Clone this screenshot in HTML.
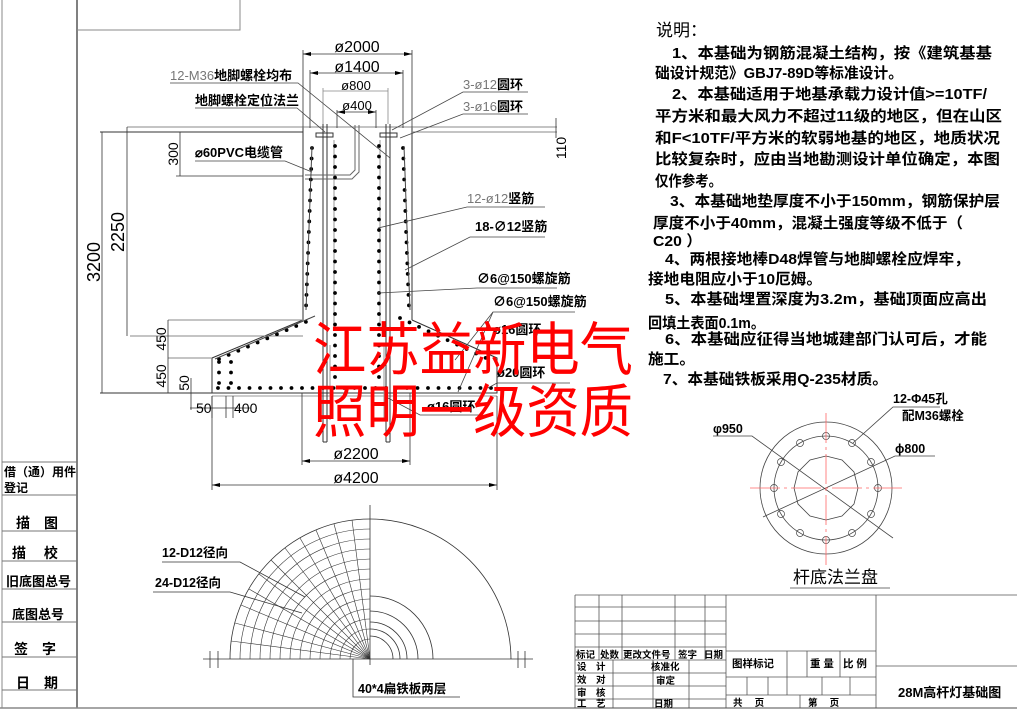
<!DOCTYPE html>
<html><head><meta charset="utf-8"><style>
html,body{margin:0;padding:0;background:#fff;}
svg{display:block;}
text{font-family:"Liberation Sans","Noto Sans CJK SC",sans-serif;fill:#000;}
.b{font-weight:bold;}
.g{fill:#777;}
</style></head><body>
<svg width="1017" height="715" viewBox="0 0 1017 715" xmlns="http://www.w3.org/2000/svg">
<g stroke="#000" stroke-width="1" fill="none">
<line x1="2" y1="0" x2="2" y2="708" stroke="#888"/>
<line x1="77" y1="0" x2="77" y2="708"/>
<line x1="0" y1="708" x2="1017" y2="708" stroke="#888" stroke-width="1.5"/>
<polyline points="77,30 240,30 240,0" stroke="#888"/>
<g stroke="#777">
<line x1="2" y1="462" x2="77" y2="462"/>
<line x1="2" y1="495" x2="77" y2="495"/>
<line x1="2" y1="531" x2="77" y2="531"/>
<line x1="2" y1="561" x2="77" y2="561"/>
<line x1="2" y1="589" x2="77" y2="589"/>
<line x1="2" y1="622" x2="77" y2="622"/>
<line x1="2" y1="657" x2="77" y2="657"/>
<line x1="2" y1="690" x2="77" y2="690"/>
</g>

<g stroke="#333">
<line x1="303" y1="128" x2="303" y2="320"/>
<line x1="412" y1="128" x2="412" y2="320"/>
<polyline points="303,320 212,358 212,393 497,393 497,358 412,320"/>
<line x1="212" y1="396" x2="497" y2="396" stroke="#999"/>
<line x1="127" y1="127" x2="557" y2="127" stroke="#888"/>
<line x1="100" y1="132" x2="303" y2="132"/>
<line x1="412" y1="132" x2="557" y2="132" stroke="#888"/>
<line x1="130" y1="336" x2="303" y2="336" stroke="#888"/>
<line x1="168" y1="320" x2="303" y2="320" stroke="#888"/>
<line x1="168" y1="358" x2="212" y2="358" stroke="#888"/>
<line x1="100" y1="393" x2="212" y2="393"/>
<line x1="323" y1="124" x2="323" y2="442"/><line x1="327" y1="124" x2="327" y2="442"/>
<line x1="386" y1="124" x2="386" y2="442"/><line x1="390" y1="124" x2="390" y2="442"/>
<line x1="323" y1="442" x2="327" y2="442"/><line x1="386" y1="442" x2="390" y2="442"/>
<rect x="316" y="133" width="17" height="4"/><rect x="380" y="133" width="17" height="4"/>
<polyline points="355,125 355,170 350,175 305,175" stroke="#666"/>
<polyline points="359,125 359,172 352,179 305,179" stroke="#666"/>
<line x1="334" y1="140" x2="334" y2="330" stroke="#999"/>
<line x1="380" y1="140" x2="380" y2="330" stroke="#999"/>
<line x1="330" y1="345" x2="330" y2="420" stroke="#999"/>
<line x1="384" y1="345" x2="384" y2="420" stroke="#999"/>
</g>
<g stroke="#000" stroke-width="3.8" stroke-linecap="round" stroke-dasharray="0 10.5">
<line x1="335" y1="146" x2="335" y2="384"/>
<line x1="379" y1="146" x2="379" y2="384"/>
<line x1="312" y1="148" x2="306" y2="308"/>
<line x1="403" y1="148" x2="409" y2="308"/>
<line x1="218" y1="388" x2="492" y2="388"/>
<line x1="219" y1="359" x2="315" y2="318"/>
<line x1="400" y1="318" x2="488" y2="359"/>
<line x1="219" y1="362" x2="219" y2="386"/>
<line x1="231" y1="362" x2="231" y2="386"/>
</g>
<g stroke="#444" stroke-width="1">
<line x1="312" y1="146" x2="306" y2="310"/>
<line x1="404" y1="146" x2="410" y2="310"/>
<line x1="215" y1="359" x2="315" y2="316"/>
</g>
<g stroke="#333" stroke-width="0.8">
<line x1="303" y1="54" x2="412" y2="54"/><line x1="303" y1="50" x2="303" y2="128"/><line x1="412" y1="50" x2="412" y2="128"/>
<line x1="310" y1="73" x2="403" y2="73"/><line x1="310" y1="70" x2="310" y2="128"/><line x1="403" y1="70" x2="403" y2="128"/>
<line x1="323" y1="91" x2="388" y2="91" stroke="#888"/><line x1="323" y1="88" x2="323" y2="124" stroke="#888"/><line x1="388" y1="88" x2="388" y2="124" stroke="#888"/>
<line x1="337" y1="112" x2="376" y2="112"/><line x1="337" y1="110" x2="337" y2="128"/><line x1="376" y1="110" x2="376" y2="128"/>
<line x1="102" y1="132" x2="102" y2="393"/>
<line x1="127" y1="127" x2="127" y2="336"/>
<line x1="180" y1="132" x2="180" y2="176"/><line x1="176" y1="176" x2="303" y2="176"/>
<line x1="168" y1="320" x2="168" y2="393"/>
<line x1="191" y1="378" x2="191" y2="410"/><line x1="188" y1="393" x2="212" y2="393"/>
<line x1="556" y1="118" x2="556" y2="138"/>
<line x1="190" y1="408" x2="250" y2="408"/><line x1="212" y1="396" x2="212" y2="418"/><line x1="226" y1="396" x2="226" y2="418"/><line x1="233" y1="396" x2="233" y2="418"/>
<line x1="302" y1="393" x2="302" y2="465"/><line x1="410" y1="393" x2="410" y2="465"/><line x1="302" y1="461" x2="410" y2="461"/>
<line x1="212" y1="396" x2="212" y2="490"/><line x1="497" y1="396" x2="497" y2="490"/><line x1="212" y1="485" x2="497" y2="485"/>
</g>
<g fill="#000" stroke="none">
<polygon points="303,54 311,52 311,56"/><polygon points="412,54 404,52 404,56"/>
<polygon points="310,73 318,71 318,75"/><polygon points="403,73 395,71 395,75"/>
<polygon points="337,112 345,110 345,114"/><polygon points="376,112 368,110 368,114"/>
<polygon points="302,461 310,459 310,463"/><polygon points="410,461 402,459 402,463"/>
<polygon points="212,485 220,483 220,487"/><polygon points="497,485 489,483 489,487"/>
</g>
<g stroke="#444" stroke-width="0.8">
<polyline points="170,83 298,83 390,158"/>
<polyline points="195,108 297,108 325,132"/>
<polyline points="195,161 285,161 312,172"/>
<polyline points="528,92 463,92 392,130"/>
<polyline points="528,114 463,114 400,138"/>
<polyline points="545,207 467,207 378,228"/>
<polyline points="545,237 470,237 405,270"/>
<polyline points="557,288 477,288 378,293"/>
<polyline points="575,312 493,312 455,360"/>
<polyline points="493,312 458,392"/>
<polyline points="570,383 497,383 488,388"/>
<polyline points="480,415 420,415 388,398"/>
</g>

<g stroke="#333" stroke-width="0.8">
<line x1="203" y1="659" x2="533" y2="659"/>
<line x1="370" y1="505" x2="370" y2="665"/>
<line x1="210" y1="651" x2="210" y2="668"/><line x1="218" y1="651" x2="218" y2="668"/>
<line x1="518" y1="651" x2="518" y2="668"/><line x1="525" y1="651" x2="525" y2="668"/>
<path d="M230,659 A140,140 0 0 1 370,519 A141,141 0 0 1 511,659"/>
<path d="M433,659 A63,63 0 0 0 370,596"/>
<path d="M418,659 A48,48 0 0 0 370,611"/>
<path d="M407,659 A37,37 0 0 0 370,622"/>
<path d="M400,659 A30,30 0 0 0 370,629"/>
<path d="M393,659 A23,23 0 0 0 370,636"/>
<g stroke-width="0.6">
<path d="M250,659 A120,120 0 0 1 370,539"/>
<path d="M240,659 A130,130 0 0 1 370,529"/>
<path d="M260,659 A110,110 0 0 1 370,549"/>
<path d="M270,659 A100,100 0 0 1 370,559"/>
<path d="M280,659 A90,90 0 0 1 370,569"/>
<path d="M290,659 A80,80 0 0 1 370,579"/>
<path d="M300,659 A70,70 0 0 1 370,589"/>
<path d="M310,659 A60,60 0 0 1 370,599"/>
<path d="M320,659 A50,50 0 0 1 370,609"/>
<path d="M330,659 A40,40 0 0 1 370,619"/>
<path d="M340,659 A30,30 0 0 1 370,629"/>
<path d="M350,659 A20,20 0 0 1 370,639"/>
<line x1="370" y1="659" x2="231" y2="641"/>
<line x1="370" y1="659" x2="235" y2="623"/>
<line x1="370" y1="659" x2="241" y2="605"/>
<line x1="370" y1="659" x2="249" y2="589"/>
<line x1="370" y1="659" x2="259" y2="574"/>
<line x1="370" y1="659" x2="271" y2="560"/>
<line x1="370" y1="659" x2="285" y2="548"/>
<line x1="370" y1="659" x2="300" y2="538"/>
<line x1="370" y1="659" x2="316" y2="530"/>
<line x1="370" y1="659" x2="334" y2="524"/>
<line x1="370" y1="659" x2="352" y2="520"/>
</g>
<polyline points="162,562 240,562 305,597"/>
<polyline points="153,592 230,592 302,613"/>
<polyline points="353,659 353,697 460,697"/>
</g>

<g stroke="#444" stroke-width="0.8">
<circle cx="826" cy="488" r="66"/>
<circle cx="826" cy="488" r="52"/>
<polygon points="858,488 854,504 842,516 826,520 810,516 798,504 794,488 798,472 810,460 826,456 842,460 854,472"/>
<g stroke-width="0.7">
<circle cx="826" cy="436" r="3.5"/><circle cx="852" cy="443" r="3.5"/><circle cx="871" cy="462" r="3.5"/>
<circle cx="878" cy="488" r="3.5"/><circle cx="871" cy="514" r="3.5"/><circle cx="852" cy="533" r="3.5"/>
<circle cx="826" cy="540" r="3.5"/><circle cx="800" cy="533" r="3.5"/><circle cx="781" cy="514" r="3.5"/>
<circle cx="774" cy="488" r="3.5"/><circle cx="781" cy="462" r="3.5"/><circle cx="800" cy="443" r="3.5"/>
</g>
<polyline points="713,436 752,436 893,538"/>
<polyline points="935,456 895,456 763,517"/>
<polyline points="940,407 893,407 853,443"/>
<line x1="790" y1="588" x2="890" y2="588"/>
</g>
<g stroke="#f66" stroke-width="0.8" stroke-dasharray="30 4 3 4">
<line x1="750" y1="488" x2="902" y2="488"/>
<line x1="826" y1="413" x2="826" y2="565"/>
</g>

<g stroke="#555" stroke-width="0.8">
<line x1="575" y1="595" x2="1017" y2="595"/>
<line x1="575" y1="595" x2="575" y2="708"/>
<line x1="575" y1="607" x2="726" y2="607"/>
<line x1="575" y1="621" x2="726" y2="621"/>
<line x1="575" y1="634" x2="726" y2="634"/>
<line x1="575" y1="647" x2="726" y2="647"/>
<line x1="575" y1="660" x2="726" y2="660"/>
<line x1="575" y1="673" x2="726" y2="673"/>
<line x1="575" y1="686" x2="726" y2="686"/>
<line x1="575" y1="699" x2="726" y2="699"/>
<line x1="599" y1="595" x2="599" y2="660"/>
<line x1="622" y1="595" x2="622" y2="660"/>
<line x1="675" y1="595" x2="675" y2="660"/>
<line x1="705" y1="595" x2="705" y2="660"/>
<line x1="613" y1="660" x2="613" y2="708"/>
<line x1="653" y1="660" x2="653" y2="708"/>
<line x1="689" y1="660" x2="689" y2="708"/>
<line x1="726" y1="595" x2="726" y2="708"/>
<line x1="876" y1="595" x2="876" y2="708"/>
<line x1="726" y1="651" x2="876" y2="651"/>
<line x1="726" y1="677" x2="876" y2="677"/>
<line x1="726" y1="695" x2="876" y2="695"/>
<line x1="787" y1="651" x2="787" y2="695"/>
<line x1="807" y1="651" x2="807" y2="677"/>
<line x1="840" y1="651" x2="840" y2="677"/>
<line x1="747" y1="677" x2="747" y2="695"/>
<line x1="768" y1="677" x2="768" y2="695"/>
<line x1="822" y1="677" x2="822" y2="695"/>
<line x1="850" y1="677" x2="850" y2="695"/>
<line x1="800" y1="695" x2="800" y2="708"/>
<line x1="876" y1="666" x2="1017" y2="666"/>
</g>
</g>

<g class="b" font-size="12">
<text x="4" y="476">借（通）用件</text>
<text x="4" y="492">登记</text>
<text x="16" y="528" font-size="14">描　图</text>
<text x="12" y="558" font-size="14">描　 校</text>
<text x="6" y="586" font-size="13">旧底图总号</text>
<text x="12" y="619" font-size="13">底图总号</text>
<text x="14" y="654" font-size="14">签　字</text>
<text x="16" y="688" font-size="14">日　期</text>
</g>

<g font-size="13">
<text x="170" y="80" class="g">12-M36<tspan class="b" style="fill:#000">地脚螺栓均布</tspan></text>
<text x="195" y="105" class="b">地脚螺栓定位法兰</text>
<text x="195" y="157" class="b">⌀60PVC电缆管</text>
<text x="463" y="89" class="g">3-ø12<tspan class="b" style="fill:#000">圆环</tspan></text>
<text x="463" y="111" class="g">3-ø16<tspan class="b" style="fill:#000">圆环</tspan></text>
<text x="467" y="203" class="g">12-ø12<tspan class="b" style="fill:#000">竖筋</tspan></text>
<text x="475" y="231" class="b">18-∅12竖筋</text>
<text x="477" y="283" class="b">∅6@150螺旋筋</text>
<text x="493" y="306" class="b">∅6@150螺旋筋</text>
<text x="493" y="334" class="b">ø16圆环</text>
<text x="497" y="377" class="b">ø20圆环</text>
<text x="427" y="411" class="b">ø16圆环</text>
</g>
<g font-size="16" class="g">
<text x="357" y="52" text-anchor="middle" style="fill:#000">ø2000</text>
<text x="357" y="72" text-anchor="middle" style="fill:#000">ø1400</text>
<text x="356" y="90" text-anchor="middle" font-size="13">ø800</text>
<text x="357" y="110" text-anchor="middle" font-size="13">ø400</text>
<text x="356" y="459" text-anchor="middle">ø2200</text>
<text x="356" y="483" text-anchor="middle">ø4200</text>
<text x="196" y="413" font-size="14">50</text>
<text x="234" y="413" font-size="14">400</text>
<text transform="translate(100,262) rotate(-90)" text-anchor="middle" style="fill:#000" font-size="18">3200</text>
<text transform="translate(124,232) rotate(-90)" text-anchor="middle" font-size="18">2250</text>
<text transform="translate(178,154) rotate(-90)" text-anchor="middle" font-size="14">300</text>
<text transform="translate(166,339) rotate(-90)" text-anchor="middle" font-size="14">450</text>
<text transform="translate(166,376) rotate(-90)" text-anchor="middle" font-size="14">450</text>
<text transform="translate(189,383) rotate(-90)" text-anchor="middle" font-size="14">50</text>
<text transform="translate(566,148) rotate(-90)" text-anchor="middle" font-size="14">110</text>
</g>

<g font-size="58">
<text x="313" y="370" textLength="320" lengthAdjust="spacingAndGlyphs" style="fill:#ff0000">江苏益新电气</text>
<text x="313" y="432" textLength="320" lengthAdjust="spacingAndGlyphs" style="fill:#ff0000">照明一级资质</text>
</g>

<g class="b" font-size="12.5">
<text x="162" y="557">12-D12径向</text>
<text x="155" y="587">24-D12径向</text>
<text x="358" y="693">40*4扁铁板两层</text>
<text x="713" y="433">φ950</text>
<text x="895" y="453">ϕ800</text>
<text x="893" y="403">12-Φ45孔</text>
<text x="902" y="420">配M36螺栓</text>
</g>
<text x="793" y="583" font-size="17">杆底法兰盘</text>

<g class="b" font-size="15">
<text x="656" y="36" font-size="17" font-weight="normal">说明：</text>
<text x="672" y="58" textLength="320" lengthAdjust="spacingAndGlyphs">1、本基础为钢筋混凝土结构，按《建筑基基</text>
<text x="655" y="78" textLength="248" lengthAdjust="spacingAndGlyphs">础设计规范》GBJ7-89D等标准设计。</text>
<text x="672" y="99" textLength="315" lengthAdjust="spacingAndGlyphs">2、本基础适用于地基承载力设计值&gt;=10TF/</text>
<text x="655" y="121" textLength="347" lengthAdjust="spacingAndGlyphs">平方米和最大风力不超过11级的地区，但在山区</text>
<text x="655" y="143" textLength="345" lengthAdjust="spacingAndGlyphs">和F&lt;10TF/平方米的软弱地基的地区，地质状况</text>
<text x="655" y="164" textLength="345" lengthAdjust="spacingAndGlyphs">比较复杂时，应由当地勘测设计单位确定，本图</text>
<text x="655" y="186" textLength="67" lengthAdjust="spacingAndGlyphs">仅作参考。</text>
<text x="670" y="206" textLength="330" lengthAdjust="spacingAndGlyphs">3、本基础地垫厚度不小于150mm，钢筋保护层</text>
<text x="653" y="228" textLength="310" lengthAdjust="spacingAndGlyphs">厚度不小于40mm，混凝土强度等级不低于（</text>
<text x="653" y="246" textLength="49" lengthAdjust="spacingAndGlyphs">C20 ）</text>
<text x="665" y="264" textLength="305" lengthAdjust="spacingAndGlyphs">4、两根接地棒D48焊管与地脚螺栓应焊牢，</text>
<text x="648" y="284" textLength="174" lengthAdjust="spacingAndGlyphs">接地电阻应小于10厄姆。</text>
<text x="665" y="304" textLength="322" lengthAdjust="spacingAndGlyphs">5、本基础埋置深度为3.2m，基础顶面应高出</text>
<text x="648" y="328" textLength="117" lengthAdjust="spacingAndGlyphs">回填土表面0.1m。</text>
<text x="665" y="344" textLength="322" lengthAdjust="spacingAndGlyphs">6、本基础应征得当地城建部门认可后，才能</text>
<text x="648" y="364" textLength="47" lengthAdjust="spacingAndGlyphs">施工。</text>
<text x="663" y="384" textLength="225" lengthAdjust="spacingAndGlyphs">7、本基础铁板采用Q-235材质。</text>
</g>

<g class="b" font-size="9.5">
<text x="576" y="658">标记</text><text x="600" y="658">处数</text><text x="623" y="658">更改文件号</text>
<text x="678" y="658">签字</text><text x="704" y="658">日期</text>
<text x="577" y="670">设　计</text><text x="651" y="670">核准化</text>
<text x="577" y="683">效　对</text><text x="656" y="684">审定</text>
<text x="577" y="696">审　核</text>
<text x="577" y="707">工　艺</text><text x="654" y="707">日期</text>
<text x="732" y="667" font-size="10.5">图样标记</text>
<text x="810" y="667" font-size="10.5">重 量</text><text x="843" y="667" font-size="10.5">比 例</text>
<text x="733" y="706">共　 页</text><text x="808" y="706">第　 页</text>
<text x="898" y="697" font-size="13">28M高杆灯基础图</text>
</g>
</svg>
</body></html>
